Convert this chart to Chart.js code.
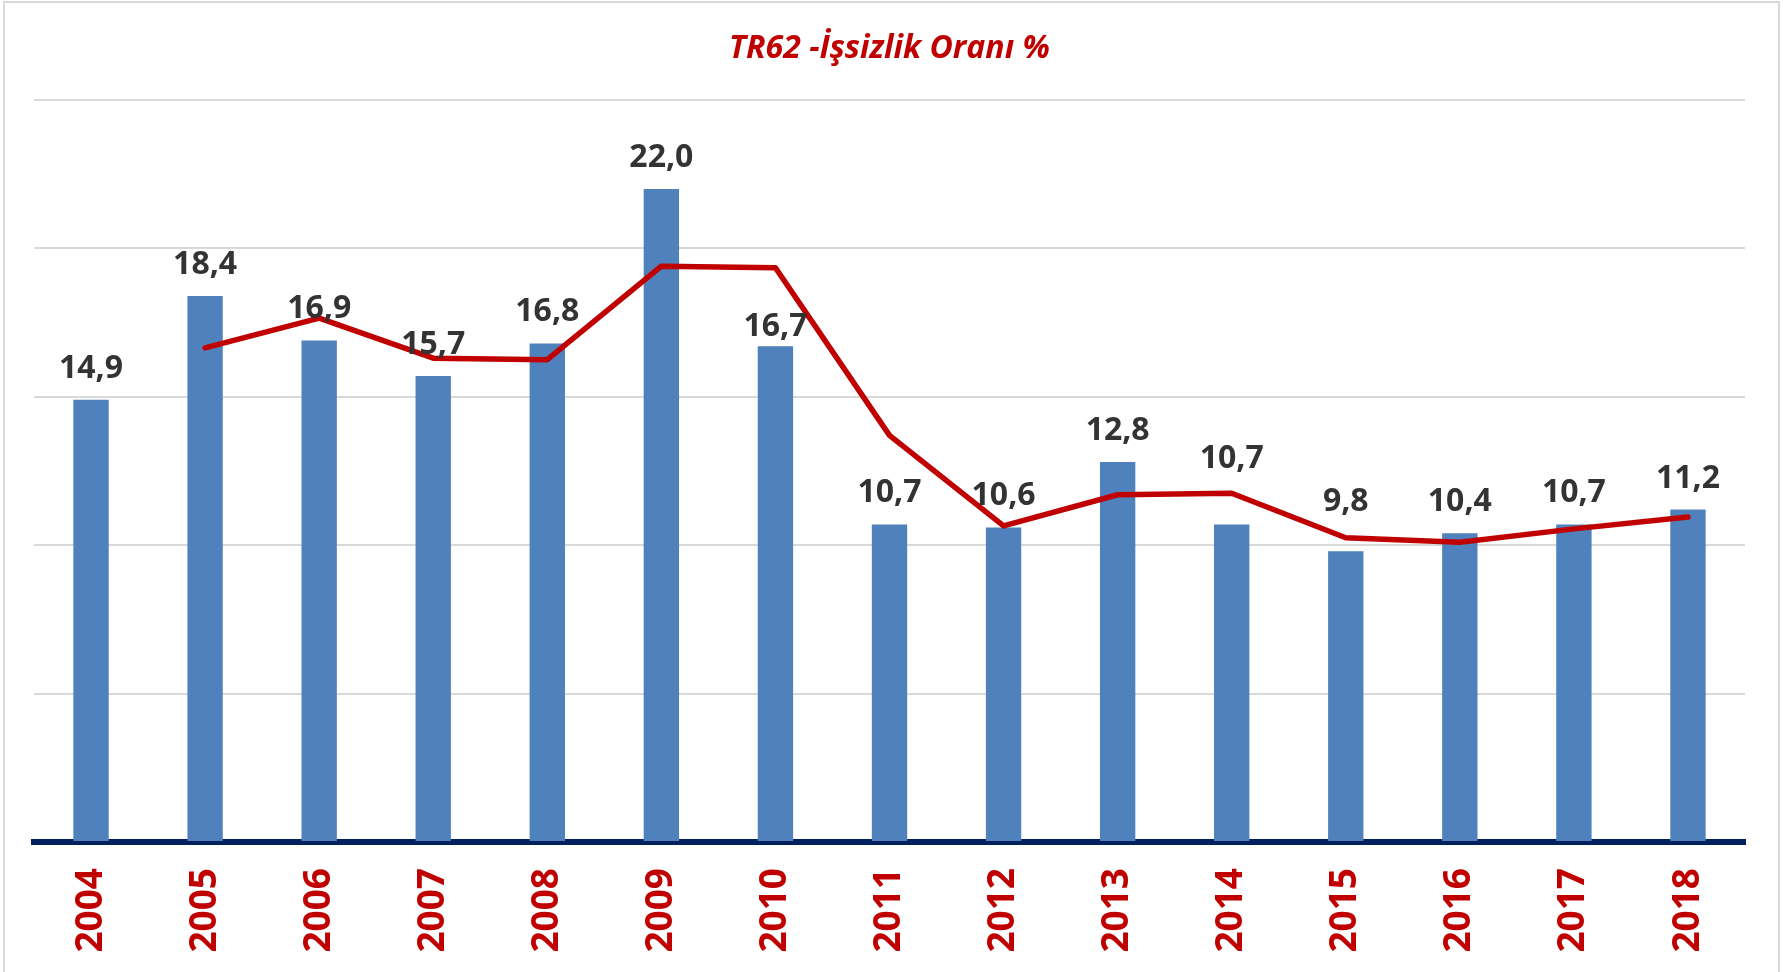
<!DOCTYPE html>
<html>
<head>
<meta charset="utf-8">
<script src="https://cdn.jsdelivr.net/npm/chart.js@4.4.1/dist/chart.umd.min.js"></script>
<style>
  html, body { margin: 0; padding: 0; background: #fff; }
  canvas { display: block; }
</style>
</head>
<body>
<canvas id="chart" width="1783" height="972"></canvas>
<script>
// years on the x axis
const years = ['2004', '2005', '2006', '2007', '2008', '2009', '2010', '2011', '2012', '2013', '2014', '2015', '2016', '2017', '2018'];
// unemployment rate (bars)
const rates = [14.9, 18.4, 16.9, 15.7, 16.8, 22.0, 16.7, 10.7, 10.6, 12.8, 10.7, 9.8, 10.4, 10.7, 11.2];
// red trend line (no value for 2004)
const trend = [null, 16.65, 17.65, 16.3, 16.25, 19.4, 19.35, 13.7, 10.65, 11.7, 11.75, 10.25, 10.1, 10.55, 10.95];
const titleText = 'TR62 -İşsizlik Oranı %';
// a few labels were moved by hand in the original (px, + is down)
const labelNudge = [0, 0, 0, 0, 0, 0, 12, 0, 0, 0, -34, -18, 0, 0, 0];

// values above the bars, with a comma as decimal mark
const barLabels = {
    id: 'barLabels',
    afterDatasetsDraw: function(chart) {
        const ctx = chart.ctx;
        const meta = chart.getDatasetMeta(1);
        ctx.save();
        ctx.font = 'bold 32px "Open Sans"';
        ctx.fillStyle = '#333333';
        ctx.textAlign = 'center';
        ctx.textBaseline = 'alphabetic';
        meta.data.forEach(function(bar, i) {
            ctx.fillText(rates[i].toFixed(1).replace('.', ','), bar.x, bar.y - 22 + labelNudge[i]);
        });
        ctx.restore();
    }
};

// thin grey frame round the whole picture
const frame = {
    id: 'frame',
    beforeDraw: function(chart) {
        const ctx = chart.ctx;
        ctx.save();
        ctx.fillStyle = '#fff';
        ctx.fillRect(0, 0, chart.width, chart.height);
        ctx.strokeStyle = '#d9d9d9';
        ctx.lineWidth = 2;
        ctx.strokeRect(4, 2, chart.width - 8, chart.height + 10);
        ctx.restore();
    }
};

new Chart(document.getElementById('chart'), {
    type: 'bar',
    data: {
        labels: years,
        datasets: [{
            type: 'line',
            data: trend,
            borderColor: '#C00000',
            borderWidth: 5.5,
            pointRadius: 0,
            tension: 0,
            borderJoinStyle: 'round',
            borderCapStyle: 'round',
            order: 0
        }, {
            data: rates,
            backgroundColor: '#4F81BD',
            categoryPercentage: 1,
            barPercentage: 0.31,
            order: 1
        }]
    },
    options: {
        responsive: false,
        animation: false,
        devicePixelRatio: 1,
        layout: { padding: { left: 34, right: 38, top: 0, bottom: 0 } },
        plugins: {
            legend: { display: false },
            tooltip: { enabled: false },
            title: {
                display: true,
                text: titleText,
                color: '#C00000',
                font: { family: '"Open Sans"', size: 32, weight: 'bold', style: 'italic' },
                padding: { top: 29.5, bottom: 32.1 }
            }
        },
        scales: {
            x: {
                grid: { display: false, drawTicks: false },
                border: { color: '#002060', width: 6 },
                ticks: {
                    color: '#C00000',
                    font: { family: '"Open Sans"', size: 37, weight: 'bold' },
                    minRotation: 90,
                    maxRotation: 90,
                    padding: 26
                },
                afterFit: function(scale) { scale.height = 130; }
            },
            y: {
                min: 0,
                max: 25,
                ticks: { display: false, stepSize: 5 },
                grid: { color: '#d9d9d9', lineWidth: 2, drawTicks: false },
                border: { display: false },
                afterFit: function(scale) { scale.width = 0; }
            }
        }
    },
    plugins: [frame, barLabels]
});
</script>
</body>
</html>
